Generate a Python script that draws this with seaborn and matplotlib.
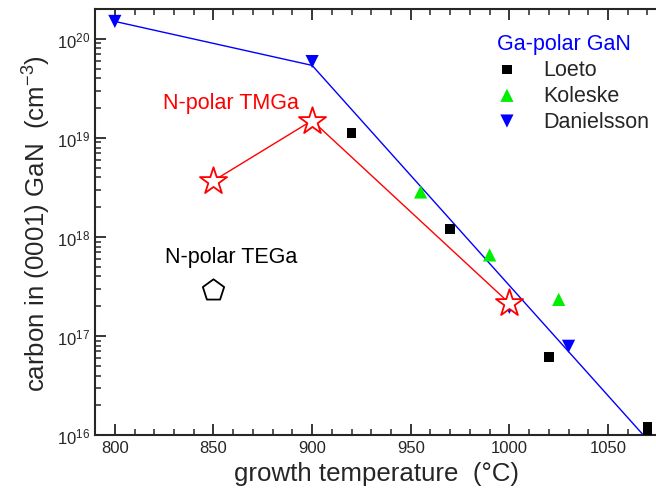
import matplotlib
matplotlib.use("Agg")
import matplotlib.pyplot as plt
import seaborn as sns
import pandas as pd

# Ga-polar GaN data
loeto_t = [920, 970, 1020, 1070, 1070]
loeto_c = [1.12e19, 1.2e18, 6.2e16, 1.2e16, 1.08e16]
koleske_t = [955, 990, 1025]
koleske_c = [2.85e18, 6.6e17, 2.35e17]
dan_t = [800, 900, 1000, 1030]
dan_c = [1.5e20, 5.9e19, 1.95e17, 7.9e16]
# guide line through Ga-polar data
guide_t = [800, 900, 1068]
guide_c = [1.5e20, 5.4e19, 1.0e16]
# N-polar
tmga_t = [850, 900, 1000]
tmga_c = [3.7e18, 1.5e19, 2.15e17]
tega_t = [850]
tega_c = [2.9e17]

sns.set_style("ticks")
plt.rcParams['font.family'] = ['Liberation Sans', 'DejaVu Sans']
plt.rcParams['mathtext.fontset'] = 'custom'
plt.rcParams['mathtext.rm'] = 'Liberation Sans'

fig = plt.figure(figsize=(6.56, 5.02), dpi=100)
ax = fig.add_axes([0.145, 0.131, 0.857, 0.849])

sns.lineplot(x=guide_t, y=guide_c, color='blue', lw=1, ax=ax, legend=False)
sns.lineplot(x=tmga_t, y=tmga_c, color='red', lw=1, ax=ax, legend=False)

sns.scatterplot(x=loeto_t, y=loeto_c, marker='s', color='black', s=50,
                edgecolor='none', ax=ax, label='Loeto', zorder=3)
sns.scatterplot(x=koleske_t, y=koleske_c, marker='^', color='#00ee00', s=90,
                edgecolor='none', ax=ax, label='Koleske', zorder=3)
sns.scatterplot(x=dan_t, y=dan_c, marker='v', color='blue', s=90,
                edgecolor='none', ax=ax, label='Danielsson', zorder=3)
sns.scatterplot(x=tmga_t, y=tmga_c, marker='*', facecolor='white', edgecolor='red',
                linewidth=1.3, s=420, ax=ax, zorder=4, legend=False)
sns.scatterplot(x=tega_t, y=tega_c, marker='p', facecolor='white', edgecolor='black',
                linewidth=1.3, s=260, ax=ax, zorder=4, legend=False)

ax.set_yscale('log')
ax.set_xlim(790, 1075)
ax.set_ylim(1e16, 2e20)
ax.set_xticks([800, 850, 900, 950, 1000, 1050])
ax.set_xticks(range(790, 1080, 10), minor=True)

ax.tick_params(which='both', direction='in', top=True, right=False, labelsize=12)
ax.tick_params(which='major', length=8, width=1.3)
ax.tick_params(which='minor', length=4, width=1.1)
for sp in ax.spines.values():
    sp.set_linewidth(1.5)
ax.spines['right'].set_visible(False)

ax.set_xlabel('growth temperature  (°C)', fontsize=18.6)
ax.set_ylabel('carbon in (0001) GaN  (cm$^{-3}$)', fontsize=18.6)

ax.text(859, 2.3e19, 'N-polar TMGa', color='red', fontsize=15.5, ha='center', va='center')
ax.text(859, 6.4e17, 'N-polar TEGa', color='black', fontsize=15.5, ha='center', va='center')

leg = ax.legend(title='Ga-polar GaN', frameon=False, loc='upper right',
                bbox_to_anchor=(1.013, 0.978), fontsize=15.5, title_fontsize=15.5,
                handlelength=2.6, handletextpad=0.4, labelspacing=0.22,
                markerscale=1.0, borderaxespad=0.3)
leg.get_title().set_color('blue')

fig.savefig('out.png', dpi=100)
